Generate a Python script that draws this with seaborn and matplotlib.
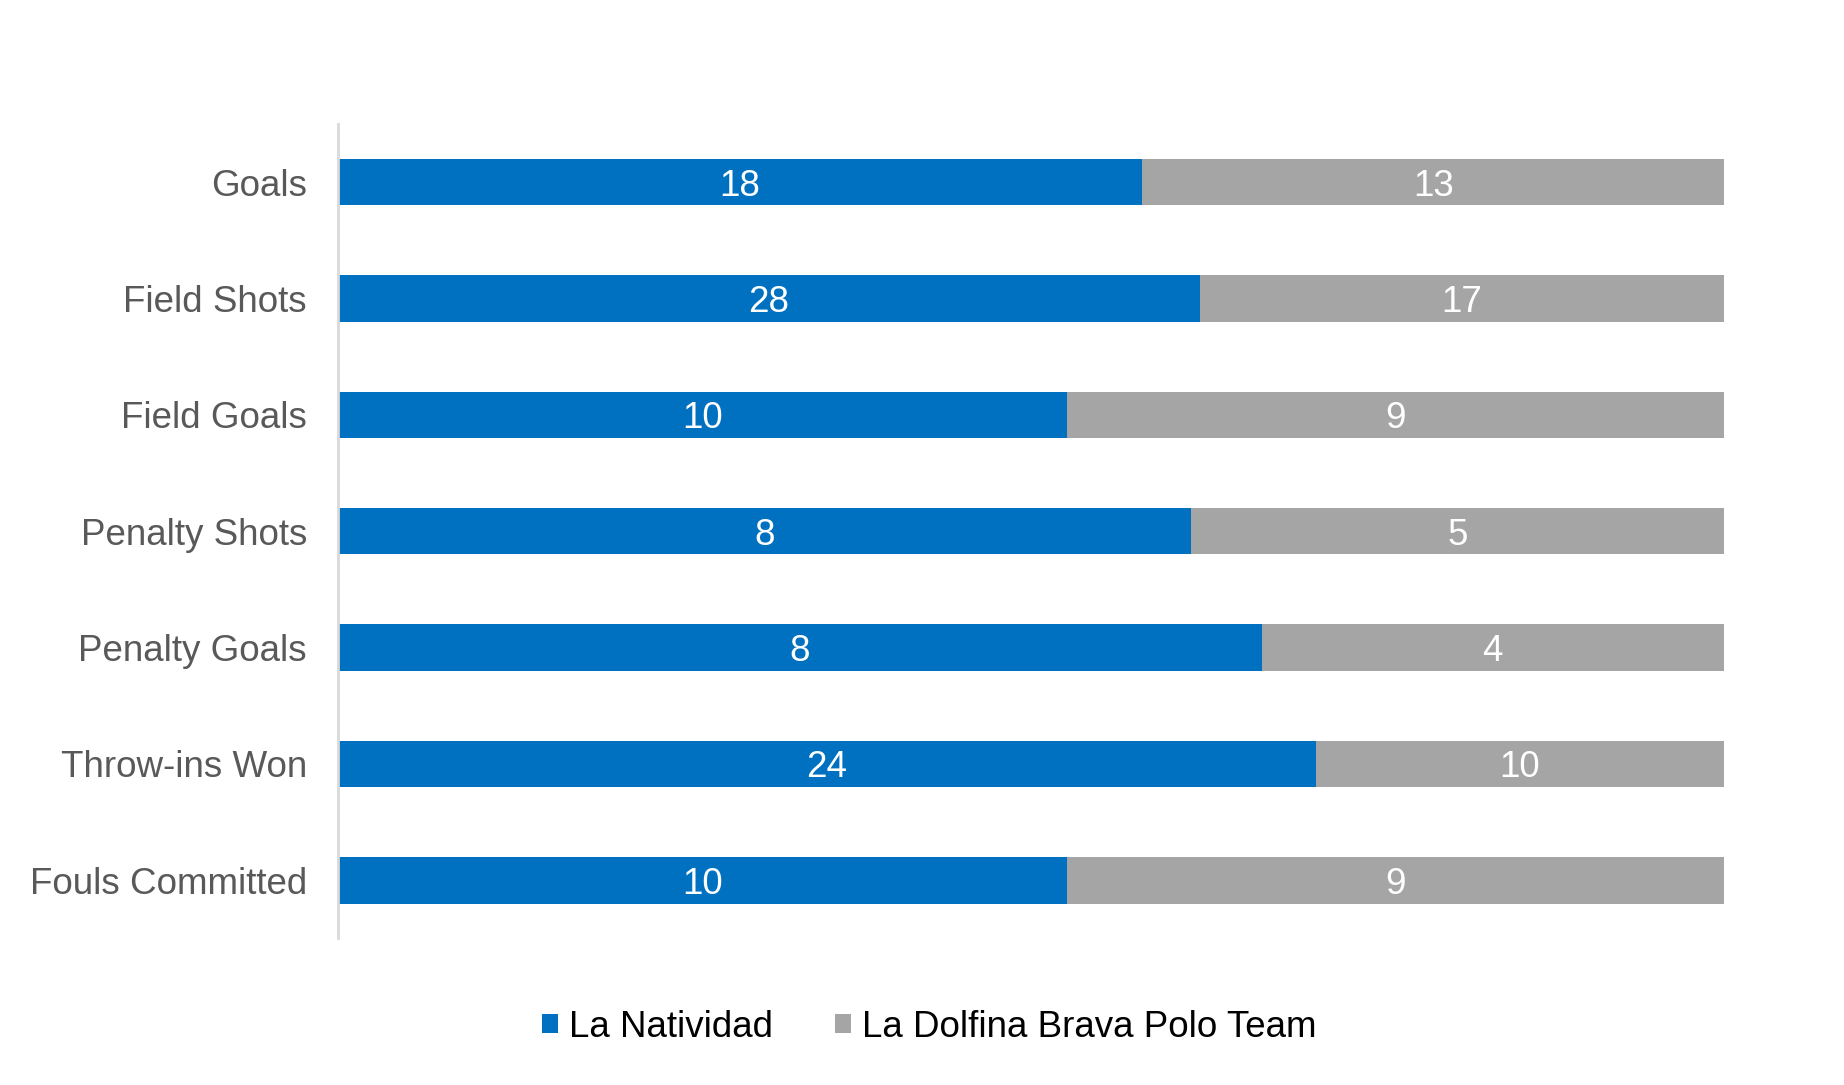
import pandas as pd
import numpy as np
import matplotlib
matplotlib.use("Agg")
import matplotlib.pyplot as plt
from matplotlib.patches import Patch
import seaborn as sns

categorias = ['Goals', 'Field Shots', 'Field Goals', 'Penalty Shots',
              'Penalty Goals', 'Throw-ins Won', 'Fouls Committed']
la_natividad = [18, 28, 10, 8, 8, 24, 10]
la_dolfina = [13, 17, 9, 5, 4, 10, 9]
equipos = ['La Natividad', 'La Dolfina Brava Polo Team']

azul = '#0070C0'
gris = '#A5A5A5'

df = pd.DataFrame({'categoria': categorias,
                   'nat': la_natividad,
                   'dol': la_dolfina})
df['total'] = df['nat'] + df['dol']
df['pct_nat'] = df['nat'] / df['total']
df['pct_total'] = 1.0

sns.set_theme(style='white')
plt.rcParams['font.family'] = ['Liberation Sans', 'DejaVu Sans']

fig = plt.figure(figsize=(18.44, 10.85), dpi=100)
ax = fig.add_axes([0.1831, 0.1351, 0.7517, 0.7506])

# barra completa (100%) gris y encima la parte azul
sns.barplot(data=df, y='categoria', x='pct_total', color=gris, width=0.4,
            orient='h', ax=ax, saturation=1, linewidth=0)
sns.barplot(data=df, y='categoria', x='pct_nat', color=azul, width=0.4,
            orient='h', ax=ax, saturation=1, linewidth=0)

# etiquetas con los valores reales
for i, fila in df.iterrows():
    ax.text(fila['pct_nat'] / 2, i, str(fila['nat']), ha='center',
            va='center_baseline', color='white', fontsize=26.5)
    ax.text((fila['pct_nat'] + 1) / 2, i, str(fila['dol']), ha='center',
            va='center_baseline', color='white', fontsize=26.5)

ax.set_xlim(0, 1)
ax.set_ylim(len(categorias) - 0.5, -0.5)
ax.set_xlabel('')
ax.set_ylabel('')
ax.set_xticks([])
ax.tick_params(axis='y', length=0, pad=22, labelsize=26.5, labelcolor='#595959')
for lado in ['top', 'right', 'bottom']:
    ax.spines[lado].set_visible(False)
ax.spines['left'].set_color('#D9D9D9')
ax.spines['left'].set_linewidth(2)

handles = [Patch(facecolor=azul, edgecolor='none'),
           Patch(facecolor=gris, edgecolor='none')]
leg = fig.legend(handles, equipos, loc='center', bbox_to_anchor=(0.504, 0.053),
                 ncol=2, frameon=False, fontsize=26.5, handlelength=0.42,
                 handleheight=0.42, handletextpad=0.3, columnspacing=1.7)
for t in leg.get_texts():
    t.set_color('black')

fig.savefig('out.png', dpi=100)
